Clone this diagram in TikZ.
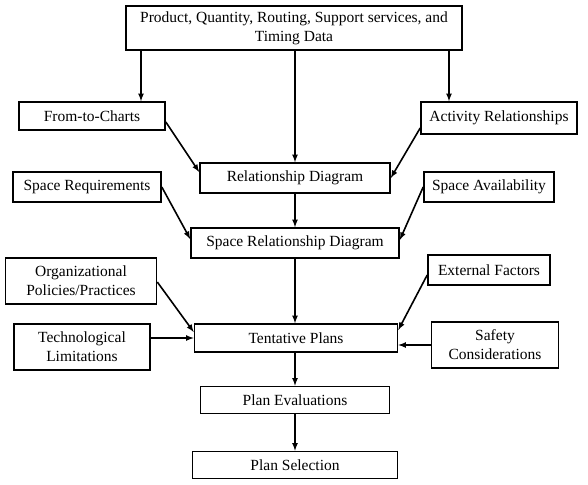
\documentclass[tikz,border=0pt]{standalone}
\usepackage{fontspec}
\setmainfont{Liberation Serif}
\usepackage{tikz}
\usetikzlibrary{arrows,positioning}

\begin{document}
\begin{tikzpicture}[
    x=1pt, y=-1pt, >=latex,
    box/.style={draw, line width=1.6pt, align=center, inner sep=1pt,
      font=\fontsize{15.5}{19}\selectfont},
    link/.style={->, line width=1.6pt}
  ]
    \useasboundingbox (0,0) rectangle (588,484);

    % Input data
    \node[box, minimum width=336pt, minimum height=44pt] (data) at (294,28)
      {Product, Quantity, Routing, Support services, and\\Timing Data};

    % First row
    \node[box, minimum width=146pt, minimum height=28pt] (fromto) at (92,116) {From-to-Charts};
    \node[box, minimum width=156pt, minimum height=32pt] (actrel) at (499,118) {Activity Relationships};
    \node[box, minimum width=190pt, minimum height=30pt] (reldiag) at (295,178) {Relationship Diagram};

    % Space
    \node[box, minimum width=148pt, minimum height=30pt] (spacereq) at (87,187) {Space Requirements};
    \node[box, minimum width=130pt, minimum height=30pt] (spaceavail) at (489,187) {Space Availability};
    \node[box, minimum width=208pt, minimum height=30pt] (spacerel) at (295,243) {Space Relationship Diagram};

    % Constraints
    \node[box, minimum width=151pt, minimum height=46pt] (orgpol) at (81,281) {Organizational\\Policies/Practices};
    \node[box, minimum width=122pt, minimum height=30pt] (extfac) at (489,270) {External Factors};
    \node[box, minimum width=136pt, minimum height=46pt] (techlim) at (82,347) {Technological\\Limitations};
    \node[box, minimum width=127pt, minimum height=46pt] (safety) at (495,345) {Safety\\Considerations};
    \node[box, minimum width=203pt, minimum height=28pt] (tentative) at (296,338) {Tentative Plans};

    % Evaluation and selection
    \node[box, minimum width=189pt, minimum height=27pt] (planeval) at (295,400) {Plan Evaluations};
    \node[box, minimum width=205pt, minimum height=27pt] (plansel) at (295,465) {Plan Selection};

    % Arrows from the data
    \coordinate (ftin) at ([xshift=49pt]fromto.north);
    \coordinate (arin) at ([xshift=-50pt]actrel.north);
    \draw[link] (data.south -| ftin) -- (ftin);
    \draw[link] (data.south -| arin) -- (arin);
    \draw[link] (data.south -| reldiag.north) -- (reldiag.north);

    % Diagonal arrows
    \draw[link] ([yshift=-6pt]fromto.east) -- ([yshift=6pt]reldiag.west);
    \draw[link] ([yshift=-10pt]actrel.west) -- (reldiag.east);
    \draw[link] (spacereq.east) -- ([yshift=4pt]spacerel.west);
    \draw[link] (spaceavail.west) -- ([yshift=3pt]spacerel.east);
    \draw[link] ([yshift=-1pt]orgpol.east) -- ([yshift=6pt]tentative.west);
    \draw[link] ([yshift=-5pt]extfac.west) -- ([yshift=8pt]tentative.east);

    % Horizontal arrows
    \draw[link] (techlim.east |- tentative.west) -- (tentative.west);
    \draw[link] (safety.west) -- (safety.west -| tentative.east);

    % Main chain
    \draw[link] (reldiag) -- (spacerel);
    \draw[link] (spacerel) -- (spacerel |- tentative.north);
    \draw[link] (tentative.south -| planeval.north) -- (planeval);
    \draw[link] (planeval) -- (plansel);
  \end{tikzpicture}
\end{document}
